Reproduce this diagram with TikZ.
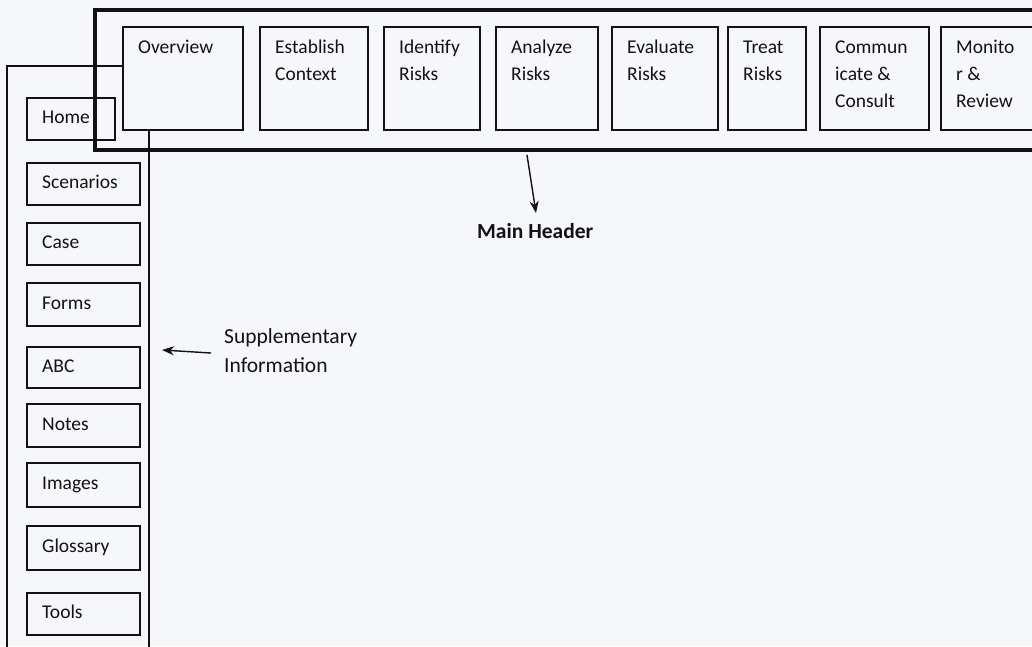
\documentclass[tikz,border=0pt]{standalone}
\usepackage{fontspec}
\setmainfont{Carlito}
\usetikzlibrary{arrows.meta}
\definecolor{paper}{RGB}{246,247,251}
\definecolor{ink}{RGB}{18,18,18}
\begin{document}
\begin{tikzpicture}[x=1pt,y=-1pt,
  hb/.style={draw=ink, line width=1.7pt, fill=paper, anchor=north west, inner sep=0pt, minimum height=103pt},
  sb/.style={draw=ink, line width=1.7pt, anchor=north west, inner sep=0pt},
  htxt/.style={anchor=north west, inner sep=0pt, align=left, text=ink, font=\fontsize{19.5}{27}\selectfont},
  stxt/.style={anchor=base west, inner sep=0pt, text=ink, font=\fontsize{19.5}{27}\selectfont},
  lbl/.style={anchor=base west, inner sep=0pt, align=left, text=ink, font=\fontsize{21.5}{29}\selectfont},
  arr/.style={-{Stealth[length=12pt,width=9pt]}, line width=1.4pt, draw=ink}]
\useasboundingbox (0,0) rectangle (1032,646);
\clip (0,0) rectangle (1032,646);
\fill[paper] (0,0) rectangle (1032,646);

% sidebar frame
\draw[ink, line width=1.7pt] (7,660) -- (7,66) -- (149,66) -- (149,660);

% sidebar boxes
\node[sb, minimum width=88pt, minimum height=42pt] (home) at (26,97) {};
\foreach \n/\t/\b/\txt in {scen/162/204/Scenarios, case/222/264/Case, forms/282/325/Forms, abc/346/387/ABC, notes/403/446/Notes, img/462/506/Images, gloss/525/569/Glossary, tools/592/634/Tools}{
  \pgfmathsetmacro{\h}{\b-\t}
  \node[sb, minimum width=113pt, minimum height=\h pt] (\n) at (26,\t) {};
  \node[stxt] (\n-t) at ([xshift=16pt,yshift=-5pt]\n.west) {\txt};
}
\node[stxt] (home-t) at ([xshift=16pt,yshift=-5pt]home.west) {Home};

% main header frame
\node[draw=ink, line width=4pt, anchor=north west, inner sep=0pt, minimum width=960pt, minimum height=140pt] (hdr) at (93,8) {};

% header boxes
\foreach \n/\l/\r/\txt in {ov/122/242/Overview, ec/259/367/{Establish\\Context}, ir/383/479/{Identify\\Risks}, ar/495/597/{Analyze\\Risks}, er/611/717/{Evaluate\\Risks}, tr/727/805/{Treat\\Risks}, cc/819/928/{Commun\\icate \&\\Consult}, mr/940/1060/{Monito\\r \&\\Review}}{
  \pgfmathsetmacro{\w}{\r-\l}
  \node[hb, minimum width=\w pt] (\n) at (\l,26) {};
  \node[htxt] (\n-t) at ([xshift=16pt,yshift=-8pt]\n.north west) {\strut\txt};
}

% labels
\node[lbl, font=\fontsize{21.5}{29}\selectfont\bfseries] (mainhdr) at (477,238) {Main Header};
\node[lbl] (supp) at (224,372) {Supplementary\\Information};

% arrows
\coordinate (mhtail) at (527,155);
\coordinate (mhtip) at (536,213);
\draw[arr] (mhtail) -- (mhtip);
\coordinate (sutail) at (211,353);
\coordinate (sutip) at (162,350);
\draw[arr] (sutail) -- (sutip);
\end{tikzpicture}
\end{document}
